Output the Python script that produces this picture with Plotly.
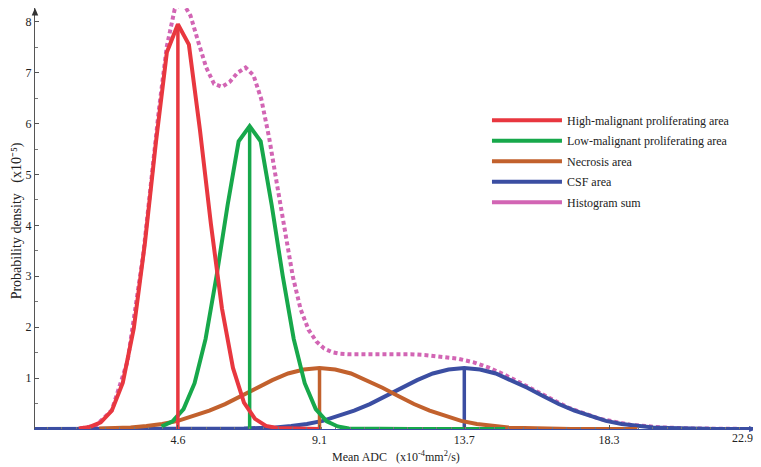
import plotly.graph_objects as go

# ---------------- data ----------------
series_names = [
    "High-malignant proliferating area",
    "Low-malignant proliferating area",
    "Necrosis area",
    "CSF area",
    "Histogram sum",
]

high_x = [1.45, 1.8, 2.15, 2.5, 2.85, 3.2, 3.55, 3.9, 4.25, 4.6, 4.95, 5.3, 5.65, 6.0, 6.35, 6.7, 7.05, 7.4, 7.75, 8.5, 9.1]
high_y = [0.01, 0.04, 0.13, 0.36, 0.91, 1.98, 3.64, 5.62, 7.40, 7.95, 7.55, 5.88, 4.02, 2.37, 1.20, 0.52, 0.20, 0.06, 0.02, 0.0, 0.0]

low_x = [4.08, 4.43, 4.78, 5.13, 5.48, 5.83, 6.18, 6.53, 6.88, 7.23, 7.58, 7.93, 8.28, 8.63, 8.98, 9.33, 9.68, 10.03, 12.0, 15.0]
low_y = [0.05, 0.15, 0.39, 0.90, 1.77, 3.01, 4.40, 5.65, 5.95, 5.65, 4.40, 3.01, 1.77, 0.90, 0.39, 0.15, 0.05, 0.01, 0.0, 0.0]

necro_x = [2.1, 2.6, 3.1, 3.6, 4.1, 4.6, 5.1, 5.6, 6.1, 6.6, 7.1, 7.6, 8.1, 8.6, 9.1, 9.6, 10.1, 10.6, 11.1, 11.6,
           12.1, 12.6, 13.1, 13.6, 14.1, 14.6, 15.1, 15.6, 16.1, 16.6, 17.1, 19.2]
necro_y = [0.01, 0.02, 0.03, 0.06, 0.10, 0.16, 0.25, 0.36, 0.49, 0.65, 0.81, 0.96, 1.09, 1.17, 1.20, 1.17, 1.09, 0.96, 0.81, 0.65,
           0.49, 0.36, 0.25, 0.16, 0.10, 0.06, 0.03, 0.02, 0.01, 0.005, 0.002, 0.0]

csf_x = [0.06, 4.7, 5.7, 6.2, 6.7, 7.2, 7.7, 8.2, 8.7, 9.2, 9.7, 10.2, 10.7, 11.2, 11.7, 12.2, 12.7, 13.2, 13.7,
         14.2, 14.7, 15.2, 15.7, 16.2, 16.7, 17.2, 17.7, 18.2, 18.7, 19.2, 19.7, 20.2, 20.7, 21.2, 21.7, 22.9]
csf_y = [0.0, 0.0, 0.002, 0.005, 0.01, 0.02, 0.03, 0.06, 0.10, 0.16, 0.25, 0.36, 0.49, 0.65, 0.81, 0.96, 1.09, 1.17, 1.20,
         1.17, 1.09, 0.96, 0.81, 0.65, 0.49, 0.36, 0.25, 0.16, 0.10, 0.06, 0.03, 0.02, 0.01, 0.005, 0.002, 0.0]

sum_x = [1.5, 2.0, 2.5, 3.0, 3.5, 4.0, 4.25, 4.5, 4.75, 5.0, 5.25, 5.5, 5.75, 6.0, 6.25, 6.5, 6.75, 7.0, 7.25, 7.5,
         7.75, 8.0, 8.25, 8.5, 8.75, 9.0, 9.25, 9.5, 9.75, 10.0, 10.5, 11.0, 11.5, 12.0, 12.5, 13.0, 13.5, 14.0,
         14.5, 15.0, 15.5, 16.0, 17.0, 18.0, 19.0, 20.0, 21.0, 22.9]
sum_y = [0.01, 0.07, 0.37, 1.33, 3.43, 6.29, 7.52, 8.25, 8.38, 8.12, 7.60, 7.10, 6.78, 6.72, 6.82, 7.00, 7.10, 6.95, 6.48, 5.72,
         4.80, 3.86, 3.00, 2.35, 1.95, 1.72, 1.58, 1.51, 1.48, 1.47, 1.47, 1.47, 1.47, 1.47, 1.45, 1.42, 1.38, 1.31,
         1.20, 1.06, 0.90, 0.73, 0.42, 0.20, 0.08, 0.03, 0.01, 0.0]

# mean ADC of each component and its peak density
peak_x = [4.6, 6.88, 9.1, 13.7]
peak_y = [7.95, 5.95, 1.20, 1.20]

x_tick_vals = [4.6, 9.1, 13.7, 18.3, 22.9]
x_tick_text = ["4.6", "9.1", "13.7", "18.3", "22.9"]
y_tick_vals = [1, 2, 3, 4, 5, 6, 7, 8]
y_tick_text = ["1", "2", "3", "4", "5", "6", "7", "8"]

# ---------------- styling ----------------
colors = ["#E8373F", "#17A84B", "#C2612D", "#3B4EA2", "#D265B4"]
FONT = "Liberation Serif"

fig = go.Figure()

# histogram sum (dotted, drawn underneath)
fig.add_trace(go.Scatter(x=sum_x, y=sum_y, mode="lines",
                         line=dict(color=colors[4], width=4, dash="4px,3px"),
                         showlegend=False, hoverinfo="skip"))

curves = [(csf_x, csf_y, 3), (necro_x, necro_y, 2), (low_x, low_y, 1), (high_x, high_y, 0)]
for cx, cy, idx in curves:
    fig.add_trace(go.Scatter(x=cx, y=cy, mode="lines",
                             line=dict(color=colors[idx], width=4),
                             showlegend=False, hoverinfo="skip"))
    fig.add_trace(go.Scatter(x=[peak_x[idx], peak_x[idx]], y=[0, peak_y[idx]], mode="lines",
                             line=dict(color=colors[idx], width=3.5),
                             showlegend=False, hoverinfo="skip"))

# legend entries (solid lines)
for i, name in enumerate(series_names):
    fig.add_trace(go.Scatter(x=[None], y=[None], mode="lines", name=name, legendgroup=f"g{i}",
                             line=dict(color=colors[i], width=4), legendrank=i + 1))

# the last x tick label sits at the very edge, so it is drawn right-aligned at its tick
axis_labels = [dict(text=x_tick_text[i], x=x_tick_vals[i], xref="x", y=0, yref="paper",
                    xanchor="right", yanchor="middle", xshift=1, yshift=-9, showarrow=False,
                    font=dict(family=FONT, size=12, color="#222"))
               for i in [len(x_tick_vals) - 1]]

fig.update_layout(
    width=753, height=459,
    margin=dict(l=27, r=4, t=0, b=38),
    paper_bgcolor="white", plot_bgcolor="white",
    font=dict(family=FONT, size=12, color="#222"),
    showlegend=True,
    legend=dict(x=0.626, y=0.768, xanchor="left", yanchor="top",
                bgcolor="rgba(0,0,0,0)", font=dict(family=FONT, size=12, color="#222"),
                itemwidth=70, tracegroupgap=1.5, traceorder="grouped"),
    xaxis=dict(range=[0.06, 23.0], showgrid=False, zeroline=False, automargin=False,
               showline=True, linecolor="#3B4EA2", linewidth=1,
               tickmode="array", tickvals=x_tick_vals,
               ticktext=x_tick_text[:-1] + [" "],
               ticks="inside", ticklen=4, tickcolor="#555",
               minor=dict(dtick=0.458, tick0=0, ticks="inside", ticklen=2.5, tickcolor="#777"),
               tickfont=dict(family=FONT, size=12, color="#222")),
    yaxis=dict(range=[0, 8.27], showgrid=False, zeroline=False, automargin=False,
               showline=True, linecolor="#555", linewidth=1,
               tickmode="array", tickvals=y_tick_vals, ticktext=y_tick_text,
               ticks="inside", ticklen=4, tickcolor="#555",
               minor=dict(dtick=0.5, tick0=0, ticks="inside", ticklen=3, tickcolor="#777"),
               tickfont=dict(family=FONT, size=12, color="#222")),
    annotations=axis_labels + [
        dict(text="Mean ADC   (x10<sup>-4</sup>mm<sup>2</sup>/s)", xref="paper", yref="paper",
             x=0.5, y=-0.0665, xanchor="center", yanchor="middle", showarrow=False,
             font=dict(family=FONT, size=12, color="#222")),
        dict(text="Probability density   (x10\u207b\u2075)", xref="paper", yref="paper",
             x=-0.0245, y=0.494, xanchor="center", yanchor="middle", showarrow=False,
             textangle=-90, font=dict(family=FONT, size=14, color="#222")),
    ],
    shapes=[
        # small arrowheads at the ends of the axes
        dict(type="path", xref="paper", yref="paper",
             path="M 0,1.0 L -0.0045,0.982 L 0.0045,0.982 Z",
             fillcolor="#333", line=dict(width=0)),
        dict(type="path", xref="paper", yref="paper",
             path="M 1.0,0 L 0.989,0.007 L 0.989,-0.007 Z",
             fillcolor="#3B4EA2", line=dict(width=0)),
    ],
)

fig.write_html("out.html")
